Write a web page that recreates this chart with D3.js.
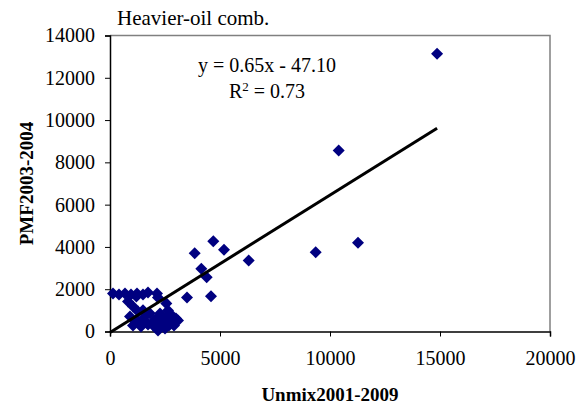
<!DOCTYPE html>
<html>
<head>
<meta charset="utf-8">
<script src="https://cdn.jsdelivr.net/npm/d3@7"></script>
<style>
  html, body { margin: 0; padding: 0; background: #fff; }
  svg { display: block; }
  svg text { font-family: "Liberation Serif", "Times New Roman", serif !important; }
</style>
</head>
<body>
<svg id="chart" width="581" height="409"></svg>
<script>
// Heavier-oil combustion factor: Unmix (2001-2009) vs PMF (2003-2004)
const unmix = [14868, 10395, 9350, 11273, 3850, 4695, 5182, 4150, 4395, 6305, 4590, 3500,
  136, 409, 682, 955, 1227, 1500, 1727, 2136, 2560, 2180,
  818, 1045, 1273,
  909, 1227, 1545, 1727, 1045, 1409, 1818, 1136,
  2273, 2545, 2818, 3000, 2409, 2682, 2182, 2500, 2909, 3091, 2636, 2000, 2300,
  1350, 1650, 1950, 2150, 2380, 2750, 2900, 1500, 1200];
const pmf = [13136, 8562, 3751, 4196, 3704, 4272, 3865, 2966, 2569, 3359, 1670, 1608,
  1797, 1750, 1797, 1750, 1797, 1750, 1845, 1797, 1330, 1608,
  1419, 1183, 946,
  710, 520, 662, 331, 284, 237, 851, 473,
  851, 615, 757, 615, 426, 284, 47, 142, 284, 520, 993, 520, 284,
  380, 430, 300, 640, 700, 480, 420, 1000, 1650];

const xTicks = [0, 5000, 10000, 15000, 20000];
const yTicks = [0, 2000, 4000, 6000, 8000, 10000, 12000, 14000];

const slope = 0.65, intercept = -47.10;
const eqText = "y = 0.65x - 47.10";
const r2Value = "0.73";
const title = "Heavier-oil comb.";
const xTitle = "Unmix2001-2009";
const yTitle = "PMF2003-2004";

const svg = d3.select("#chart");
const plotL = 110, plotR = 550, plotT = 35.5, plotB = 331.5;

const x = d3.scaleLinear().domain([0, 20000]).range([plotL, plotR]);
const y = d3.scaleLinear().domain([0, 14000]).range([plotB, plotT]);

// plot frame (top and right edges grey)
svg.append("path")
  .attr("d", `M${plotL},${plotT}H${plotR}V${plotB}`)
  .attr("fill", "none").attr("stroke", "#808080").attr("stroke-width", 1.5);

// axes
const yAxis = svg.append("g").attr("transform", `translate(${plotL},0)`)
  .call(d3.axisLeft(y).tickValues(yTicks).tickFormat(d3.format("d")).tickSizeOuter(0).tickSize(5).tickPadding(10));
const xAxis = svg.append("g").attr("transform", `translate(0,${plotB})`)
  .call(d3.axisBottom(x).tickValues(xTicks).tickFormat(d3.format("d")).tickSizeOuter(0).tickSize(5).tickPadding(14));
[yAxis, xAxis].forEach(g => {
  g.attr("font-family", null);
  g.select(".domain").attr("stroke", "#000").attr("stroke-width", 1.5);
  g.selectAll(".tick line").attr("stroke", "#000").attr("stroke-width", 1);
  g.selectAll(".tick text").attr("fill", "#000").style("font-size", "20px");
});

// data points (diamonds)
const diamond = d3.symbol().type(d3.symbolDiamond2).size(92);
svg.append("g").selectAll("path")
  .data(unmix.map((u, i) => [u, pmf[i]]))
  .join("path")
  .attr("d", diamond)
  .attr("transform", d => `translate(${x(d[0])},${y(d[1])})`)
  .attr("fill", "#000080");

// regression line
const xMax = d3.max(unmix);
svg.append("line")
  .attr("x1", x(0)).attr("y1", y(intercept))
  .attr("x2", x(xMax)).attr("y2", y(slope * xMax + intercept))
  .attr("stroke", "#000").attr("stroke-width", 3);

// equation
svg.append("text").attr("x", 267).attr("y", 72).attr("text-anchor", "middle")
  .style("font-size", "20px").text(eqText);
const r2 = svg.append("text").attr("x", 267).attr("y", 98).attr("text-anchor", "middle")
  .style("font-size", "20px");
r2.append("tspan").text("R");
r2.append("tspan").attr("dy", -7).style("font-size", "13px").text("2");
r2.append("tspan").attr("dy", 7).text(" = " + r2Value);

// title
svg.append("text").attr("x", 117).attr("y", 25).style("font-size", "21px").text(title);

// axis titles
svg.append("text").attr("x", 330).attr("y", 401).attr("text-anchor", "middle")
  .style("font-size", "19px").style("font-weight", "bold").text(xTitle);
svg.append("text").attr("transform", "translate(33,183.5) rotate(-90)")
  .attr("text-anchor", "middle")
  .style("font-size", "19px").style("font-weight", "bold").text(yTitle);
</script>
</body>
</html>
